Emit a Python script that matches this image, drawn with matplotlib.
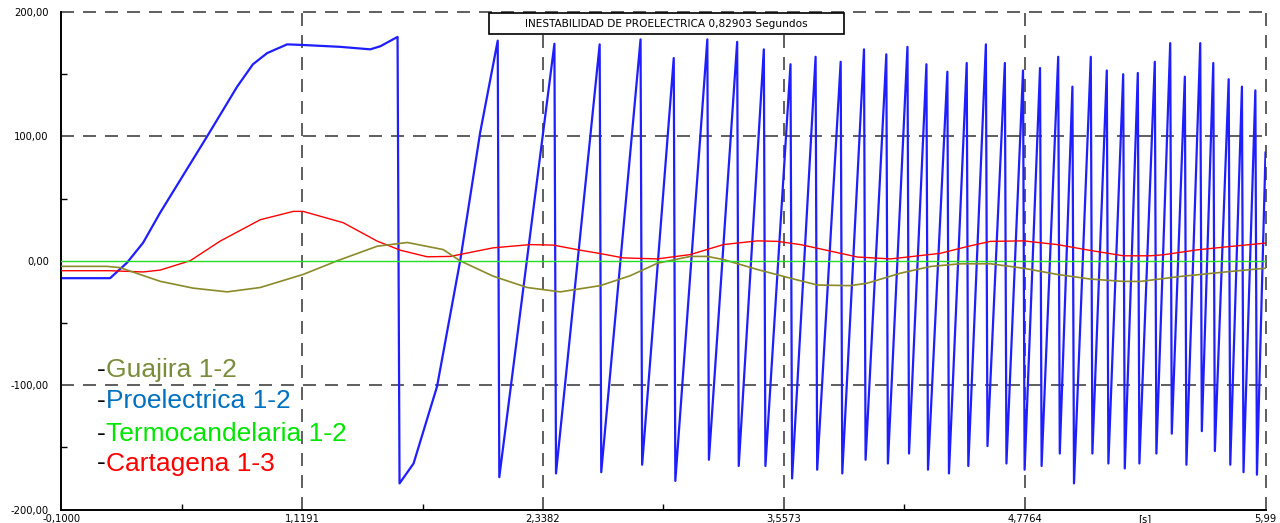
import matplotlib.pyplot as plt
from matplotlib.patches import Rectangle

# axis ticks
x_ticks = [-0.1000, 1.1191, 2.3382, 3.5573, 4.7764, 5.9955]
x_tick_labels = ['-0,1000', '1,1191', '2,3382', '3,5573', '4,7764', '5,99']
x_unit_pos = 5.386
x_unit_label = '[s]'
y_ticks = [200, 100, 0, -100, -200]
y_tick_labels = ['200,00', '100,00', '0,00', '-100,00', '-200,00']

title = 'INESTABILIDAD DE PROELECTRICA 0,82903 Segundos'

# Proelectrica 1-2: lead-in, first swing and first slip
proe_t = [-0.1, 0.147, 0.233, 0.314, 0.400, 0.638, 0.790, 0.870, 0.942, 1.043, 1.124,
          1.312, 1.464, 1.515, 1.602, 1.612, 1.683, 1.802, 1.920, 2.020]
proe_v = [-14, -14, -1.5, 14.5, 38.6, 100, 140, 158, 167, 174, 173.5,
          172, 170, 172.5, 180, -179, -163, -101, 1, 103]

# following pole slips: time of wrap, angle before and after wrap
slip_t = [2.109, 2.396, 2.625, 2.832, 3.000, 3.170, 3.321, 3.456, 3.591, 3.718,
          3.845, 3.963, 4.076, 4.183, 4.279, 4.385, 4.483, 4.580, 4.676, 4.768,
          4.854, 4.946, 5.018, 5.111, 5.192, 5.275, 5.349, 5.435, 5.513, 5.587,
          5.665, 5.731, 5.809, 5.876, 5.944]
slip_top = [177, 174.5, 174, 178, 163, 178, 176, 170, 158, 164,
            160, 170, 166, 172, 158, 152, 159, 174, 159, 153,
            155, 164, 140, 164, 153, 150, 151, 160, 175, 148,
            175, 159, 146, 140, 137]
slip_bottom = [-174, -171, -170, -164, -177, -160, -165, -165, -175, -168,
               -171, -160, -163, -155, -168, -171, -165, -149, -163, -168,
               -165, -155, -179, -155, -163, -167, -163, -155, -139, -164,
               -137, -153, -164, -170, -172]
proe_end_t = 5.9955
proe_end_v = 87

guajira_t = [-0.1, 0.131, 0.197, 0.400, 0.567, 0.740, 0.907, 1.124, 1.297, 1.499,
             1.651, 1.833, 1.918, 2.086, 2.258, 2.426, 2.628, 2.780, 2.917, 3.084,
             3.170, 3.251, 3.423, 3.590, 3.727, 3.894, 3.980, 4.147, 4.299, 4.451,
             4.603, 4.770, 4.942, 5.109, 5.276, 5.362, 5.565, 5.818, 5.9955]
guajira_v = [-4.5, -4.5, -5.5, -16.5, -22, -25, -21.5, -11, 0, 11.7,
             14.7, 9, 0, -12.4, -21.5, -25, -20, -12, -2, 3.5,
             3.5, 1, -7, -14, -19.5, -20, -18, -10, -4.6, -2.4,
             -2.4, -6, -11, -14.7, -16.6, -16.6, -12.6, -8.6, -6]

cartagena_t = [-0.1, 0.147, 0.314, 0.400, 0.552, 0.704, 0.907, 1.074, 1.124, 1.327,
               1.499, 1.616, 1.752, 1.869, 2.086, 2.274, 2.390, 2.527, 2.628, 2.745,
               2.917, 3.084, 3.251, 3.423, 3.525, 3.641, 3.758, 3.930, 4.097, 4.183,
               4.350, 4.487, 4.603, 4.770, 4.942, 5.109, 5.276, 5.412, 5.478, 5.651,
               5.818, 5.9955]
cartagena_v = [-8, -8, -9, -7.5, 0, 15.8, 33, 39.7, 39.7, 30.6,
               15.8, 8.5, 3.2, 3.5, 10.4, 13, 12.6, 8.5, 5.8, 2.3,
               1.5, 5, 13, 16, 15.6, 13, 9, 3, 1.5, 3,
               6, 11.5, 15.6, 16, 13, 8.3, 4, 4, 4.8, 8.8,
               11.5, 14.2]

termo_t = [-0.1, 5.9955]
termo_v = [0, 0]

legend_names = ['Guajira 1-2', 'Proelectrica 1-2', 'Termocandelaria 1-2', 'Cartagena 1-3']
legend_colors = ['#7a8c3c', '#0070c0', '#00e600', '#ff0000']

DROP = 0.008
blue_t = list(proe_t)
blue_v = list(proe_v)
for t, top, bot in zip(slip_t, slip_top, slip_bottom):
    blue_t += [t, t + DROP]
    blue_v += [top, bot]
blue_t.append(proe_end_t)
blue_v.append(proe_end_v)

fig = plt.figure(figsize=(12.8, 5.23), dpi=100)
ax = fig.add_axes([0.0479, 0.0258, 0.9408, 0.9512])

grid_kw = dict(color='#333333', lw=1.1, dashes=(8.5, 5.9), zorder=1)
for y in [100, -100]:
    ax.axhline(y, **grid_kw)
ax.axhline(200, clip_on=False, **grid_kw)
for x in x_ticks[1:-1]:
    ax.axvline(x, **grid_kw)
ax.axvline(x_ticks[-1], clip_on=False, **grid_kw)

ax.plot(blue_t, blue_v, color='#1e1eff', lw=1.6, zorder=2)
ax.plot(cartagena_t, cartagena_v, color='#ff0000', lw=1.0, zorder=3)
ax.plot(guajira_t, guajira_v, color='#8a8a28', lw=1.2, zorder=3)
ax.plot(termo_t, termo_v, color='#22dd22', lw=1.0, zorder=4)

ax.set_xlim(x_ticks[0], x_ticks[-1])
ax.set_ylim(-200, 200)
for s in ['top', 'right']:
    ax.spines[s].set_visible(False)
for s in ['left', 'bottom']:
    ax.spines[s].set_linewidth(1.4)

ax.set_xticks(x_ticks[:-1] + [x_unit_pos, x_ticks[-1]])
ax.set_xticklabels(x_tick_labels[:-1] + [x_unit_label, x_tick_labels[-1]])
ax.set_yticks(y_ticks)
ax.set_yticklabels(y_tick_labels)
mids_x = [(a + b) / 2 for a, b in zip(x_ticks[:-1], x_ticks[1:])]
ax.set_xticks(mids_x, minor=True)
ax.set_yticks([150, 50, -50, -150], minor=True)
ax.tick_params(which='major', length=0, labelsize=7.2)
ax.tick_params(axis='y', which='major', pad=9)
ax.tick_params(axis='x', which='major', pad=3)
ax.tick_params(which='minor', direction='in', length=4, width=1)

ax.add_patch(Rectangle((0.3552, 0.9558), 0.2948, 0.042, transform=ax.transAxes,
                       facecolor='white', edgecolor='black', lw=1.2,
                       zorder=6, clip_on=False))
ax.text(0.5026, 0.976, title, transform=ax.transAxes, ha='center', va='center',
        fontsize=7.6, zorder=7)

baselines = [376.7, 408.3, 440.7, 470.5]
for name, color, yb in zip(legend_names, legend_colors, baselines):
    fig.text(97 / 1280, 1 - yb / 523, '-', color='black', fontsize=19,
             family='Liberation Sans', va='baseline')
    fig.text(106 / 1280, 1 - yb / 523, name, color=color, fontsize=19,
             family='Liberation Sans', va='baseline')

fig.savefig('out.png', dpi=100)
